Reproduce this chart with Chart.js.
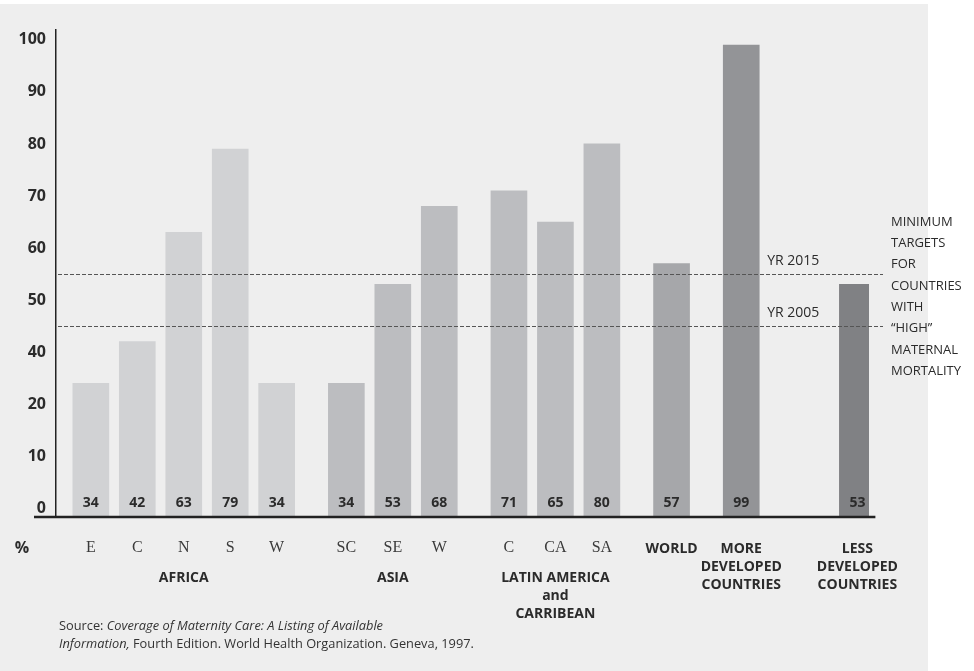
<!DOCTYPE html>
<html>
<head>
<meta charset="utf-8">
<script src="https://cdn.jsdelivr.net/npm/chart.js@4.4.1/dist/chart.umd.min.js"></script>
<style>
  body { margin: 0; background: #fff; }
  #wrap { position: relative; width: 974px; height: 671px; }
  #panel { position: absolute; left: 0; top: 4px; width: 928px; height: 667px; background: #eeeeee; }
  #chart { position: absolute; left: 0; top: 0; }
  #source {
    position: absolute; left: 59px; top: 616px;
    font: 12.8px "Open Sans", sans-serif; line-height: 18px; color: #333;
  }
</style>
</head>
<body>
<div id="wrap">
  <div id="panel"></div>
  <canvas id="chart" width="974" height="671"></canvas>
  <div id="source">Source: <i>Coverage of Maternity Care: A Listing of Available</i><br><i>Information,</i> Fourth Edition. World Health Organization. Geneva, 1997.</div>
</div>
<script>
// data
var regions = ['E', 'C', 'N', 'S', 'W', 'SC', 'SE', 'W', 'C', 'CA', 'SA',
    ['WORLD'], ['MORE', 'DEVELOPED', 'COUNTRIES'], ['LESS', 'DEVELOPED', 'COUNTRIES']]
var coverage = [34, 42, 63, 79, 34, 34, 53, 68, 71, 65, 80, 57, 99, 53]
var groupNames = [['AFRICA'], ['ASIA'], ['LATIN AMERICA', 'and', 'CARRIBEAN'], [], [], []]
var groupSizes = [5, 3, 3, 1, 1, 1]
var yTickValues = [10, 20, 30, 40, 50, 60, 70, 80, 90, 100]
var yTickLabels = ['0', '10', '20', '40', '50', '60', '70', '80', '90', '100']
var targets = [55, 45]
var targetLabels = ['YR 2015', 'YR 2005']
var noteLines = ['MINIMUM', 'TARGETS', 'FOR', 'COUNTRIES', 'WITH', '\u201CHIGH\u201D', 'MATERNAL', 'MORTALITY']

// layout: empty half-slots used as spacing
var groupColors = ['#d1d2d4', '#bcbdc0', '#bcbdc0', '#a6a7aa', '#939497', '#808184']
var gapAfterGroup = [2, 2, 2, 2, 4]

var labels = ['']
var values = [null]
var colors = ['#000']
var barSlots = []
var k = 0
groupSizes.forEach(function (size, g) {
    for (var i = 0; i < size; i++) {
        barSlots.push(labels.length)
        labels.push(k)
        values.push(coverage[k])
        colors.push(groupColors[g])
        k++
        if (i < size - 1) { labels.push(''); values.push(null); colors.push('#000') }
    }
    if (g < gapAfterGroup.length) {
        for (var j = 0; j < gapAfterGroup[g]; j++) { labels.push(''); values.push(null); colors.push('#000') }
    }
})

var sans = '"Open Sans", sans-serif'
var ink = '#2b2b2b'

var decorations = {
    id: 'decorations',
    afterDatasetsDraw: function (chart) {
        var ctx = chart.ctx
        var area = chart.chartArea
        var x = chart.scales.x
        var y = chart.scales.y
        var bars = chart.getDatasetMeta(0).data
        var noteX = area.right + 22

        ctx.save()
        // target lines
        ctx.strokeStyle = '#555'
        ctx.lineWidth = 1
        ctx.setLineDash([4, 2])
        targets.forEach(function (t) {
            var py = Math.round(y.getPixelForValue(t)) + 0.5
            ctx.beginPath()
            ctx.moveTo(area.left + 2, py)
            ctx.lineTo(noteX - 8, py)
            ctx.stroke()
        })
        ctx.setLineDash([])

        ctx.fillStyle = ink
        ctx.textBaseline = 'middle'
        ctx.textAlign = 'left'
        ctx.font = '14px ' + sans
        var moreX = x.getPixelForValue(barSlots[12])
        targets.forEach(function (t, i) {
            ctx.fillText(targetLabels[i], moreX + 26, y.getPixelForValue(t) - 13)
        })

        ctx.font = '13px ' + sans
        noteLines.forEach(function (s, i) {
            ctx.fillText(s, noteX, 222 + i * 21.3)
        })

        // value labels inside bars
        ctx.textAlign = 'center'
        ctx.font = 'bold 14px ' + sans
        barSlots.forEach(function (slot, i) {
            ctx.fillText(coverage[i], bars[slot].x, area.bottom - 14)
        })

        // baseline
        var last = bars[barSlots[barSlots.length - 1]]
        ctx.strokeStyle = '#222'
        ctx.lineWidth = 2.5
        ctx.beginPath()
        ctx.moveTo(34, area.bottom)
        ctx.lineTo(last.x + last.width / 2, area.bottom)
        ctx.stroke()

        // category labels
        ctx.font = 'bold 16px ' + sans
        ctx.fillText('%', 22, area.bottom + 31)
        regions.forEach(function (r, i) {
            var px = x.getPixelForValue(barSlots[i])
            if (Array.isArray(r)) {
                ctx.font = 'bold 14px ' + sans
                r.forEach(function (line, n) { ctx.fillText(line, px, area.bottom + 32 + n * 18) })
            } else {
                ctx.font = '16px "Liberation Serif", serif'
                ctx.fillStyle = '#3a3a3a'
                ctx.fillText(r, px, area.bottom + 31)
                ctx.fillStyle = ink
            }
        })

        // group labels
        ctx.font = 'bold 14px ' + sans
        var start = 0
        groupSizes.forEach(function (size, g) {
            var a = x.getPixelForValue(barSlots[start])
            var b = x.getPixelForValue(barSlots[start + size - 1])
            groupNames[g].forEach(function (line, n) {
                ctx.fillText(line, (a + b) / 2, area.bottom + 61 + n * 18)
            })
            start += size
        })
        ctx.restore()
    }
}

new Chart(document.getElementById('chart'), {
    type: 'bar',
    data: {
        labels: labels,
        datasets: [{
            data: values,
            backgroundColor: colors,
            barThickness: 36,
            borderWidth: 0
        }]
    },
    options: {
        responsive: false,
        animation: false,
        layout: {
            padding: { top: 30, right: 105, bottom: 154, left: 0 }
        },
        plugins: {
            legend: { display: false },
            tooltip: { enabled: false }
        },
        scales: {
            x: {
                type: 'category',
                offset: true,
                grid: { display: false, drawTicks: false },
                border: { display: false },
                ticks: { display: false }
            },
            y: {
                min: 8.3,
                max: 101.9,
                afterFit: function (axis) { axis.width = 56 },
                afterBuildTicks: function (axis) {
                    axis.ticks = yTickValues.map(function (v) { return { value: v } })
                },
                grid: { display: false, drawTicks: false },
                border: { display: true, color: '#222', width: 1.5 },
                ticks: {
                    padding: 10,
                    color: ink,
                    font: { family: sans, size: 16, weight: 'bold' },
                    callback: function (value, index) { return yTickLabels[index] }
                }
            }
        }
    },
    plugins: [decorations]
})
</script>
</body>
</html>
